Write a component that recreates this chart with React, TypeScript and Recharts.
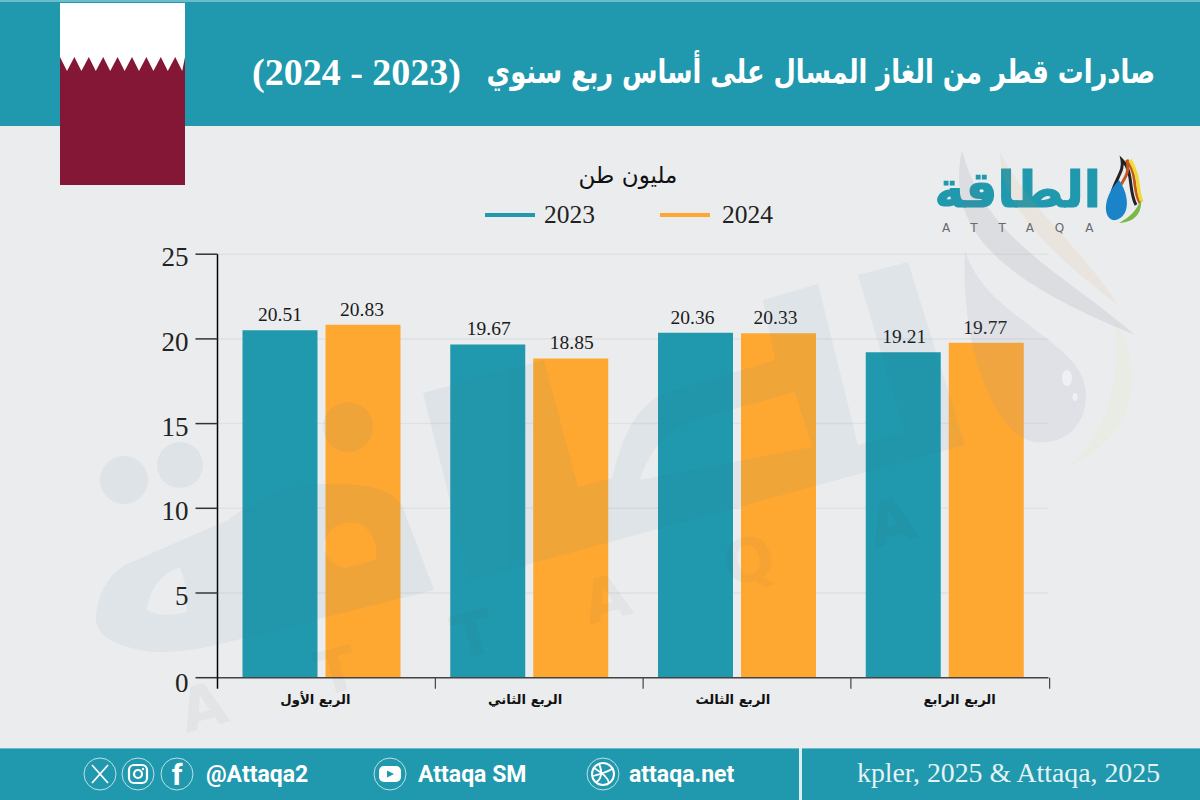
import { BarChart, Bar, XAxis, YAxis, CartesianGrid, Legend, LabelList } from 'recharts';

const quarters = ['الربع الأول', 'الربع الثاني', 'الربع الثالث', 'الربع الرابع'];
const exports2023 = [20.51, 19.67, 20.36, 19.21];
const exports2024 = [20.83, 18.85, 20.33, 19.77];
const yTicks = [0, 5, 10, 15, 20, 25];

const chartData = quarters.map((quarter, i) => ({
  quarter,
  y2023: exports2023[i],
  y2024: exports2024[i],
}));

const TEAL = '#2098AD';
const ORANGE = '#FEA832';
const PAGE = '#EBECEE';
const SERIF = '"Liberation Serif", serif';
const ARABIC = '"DejaVu Sans", sans-serif';
const LATIN = 'Roboto, sans-serif';

// the source draws its x ticks and quarter names off-centre from the bars
const tickShift = [114, 114, 114, 105];
const nameShift = [-6, -4, -4, 15];
const labelShift2023 = [0, 1, -3, 1];
const labelShift2024 = [-1, 1, -3, -1];

const YTick = ({ x, y, payload }: any) => (
  <text x={x} y={y + (payload.value === 0 ? 14 : 12)} textAnchor="end" fontFamily={SERIF} fontSize={27} fill="#222">
    {payload.value}
  </text>
);

const XTick = ({ x, y, index, payload }: any) => (
  <g>
    {index === 0 && <line x1={217.5} x2={217.5} y1={y} y2={y + 11} stroke="#000" strokeWidth={1.5} />}
    <line x1={x + tickShift[index]} x2={x + tickShift[index]} y1={y} y2={y + 11} stroke="#444" strokeWidth={1.2} />
    <text x={x + nameShift[index]} y={y + 26} textAnchor="middle" fontFamily={ARABIC} fontWeight="bold" fontSize={13.2} fill="#111">
      {payload.value}
    </text>
  </g>
);

const barLabel = (shift: number[]) => (p: any) => (
  <text x={p.x + p.width / 2 + shift[p.index]} y={p.y - 9} textAnchor="middle" fontFamily={SERIF} fontSize={19.5} fill="#1a1a1a">
    {p.value}
  </text>
);

const LegendRow = () => (
  <div style={{ position: 'relative', height: 0 }}>
    {[
      { name: '2023', color: TEAL, left: 485, textLeft: 544 },
      { name: '2024', color: ORANGE, left: 660, textLeft: 722 },
    ].map((s) => (
      <div key={s.name}>
        <div style={{ position: 'absolute', left: s.left, top: 18, width: 50, height: 4, background: s.color }} />
        <div style={{ position: 'absolute', left: s.textLeft, top: 6, fontFamily: SERIF, fontSize: 25.5, lineHeight: '28px', color: '#222' }}>
          {s.name}
        </div>
      </div>
    ))}
  </div>
);

const flagTeeth = () => {
  const pts: string[] = ['60,3', '185,3', '185,57'];
  for (let i = 8; i >= 0; i--) {
    pts.push(`${67 + i * 14.4},71`);
    pts.push(`${60 + i * 14.4},57`);
  }
  return pts.join(' ');
};

const Flag = () => (
  <svg width={1200} height={200} style={{ position: 'absolute', left: 0, top: 0 }}>
    <rect x={60} y={3} width={125} height={182} fill="#851736" />
    <polygon points={flagTeeth()} fill="#fff" />
  </svg>
);

// pale logo printed across the plot, it also tints the bars below it
const Watermark = () => (
  <svg width={1200} height={800} style={{ position: 'absolute', left: 0, top: 0, pointerEvents: 'none' }}>
    <g fill="#3f7f9a" opacity={0.07}>
      <path
        fillRule="evenodd"
        d="M96 618 C98 590 110 575 125 565 L228 520 C260 495 300 482 337 484 C370 484 392 490 402 505 L434 590 L228 642 C190 652 160 654 140 650 C112 644 96 635 96 618 Z
           M147 610 C148 590 165 570 180 568 C188 585 185 600 187 612 C172 616 158 616 147 610 Z
           M325 540 C330 525 345 520 360 524 C372 530 378 545 376 560 L345 568 C332 565 322 555 325 540 Z"
      />
      <path
        fillRule="evenodd"
        d="M423 393 L544 360 L578 487 L612 478 C622 440 632 412 660 395 L775 360 L763 300 L818 284 L858 445 L905 432 L858 275 L908 262 L965 445 L526 565 L470 580 Z
           M640 480 C650 448 670 428 695 420 L795 392 L812 447 Z"
      />
      <circle cx={124} cy={480} r={24} />
      <circle cx={180} cy={465} r={23} />
      <circle cx={348} cy={427} r={25} />
    </g>
    <text
      x={0}
      y={0}
      transform="translate(186 733) rotate(-15)"
      fontFamily={ARABIC}
      fontWeight="bold"
      fontSize={60}
      letterSpacing={99}
      fill="#555"
      fillOpacity={0.05}
    >
      ATTAQA
    </text>
    <path d="M962 150 C945 230 1000 280 1135 335 C1060 270 985 240 962 150 Z" fill="#7a7f8c" fillOpacity={0.13} />
    <path d="M1000 152 C1000 210 1060 260 1118 305 C1075 240 1030 210 1000 152 Z" fill="#e0a060" fillOpacity={0.1} />
    <path d="M965 250 C985 320 1086 340 1086 395 C1086 430 1060 445 1035 442 C1000 438 960 360 965 250 Z" fill="#8a90b0" fillOpacity={0.12} />
    <ellipse cx={1067} cy={378} rx={5} ry={8} fill="#fff" fillOpacity={0.5} />
    <ellipse cx={1075} cy={397} rx={2.5} ry={4} fill="#fff" fillOpacity={0.5} />
    <path d="M1115 320 C1150 380 1130 440 1070 465 C1110 430 1120 380 1115 320 Z" fill="#d8e0a0" fillOpacity={0.1} />
  </svg>
);

const Logo = () => (
  <svg width={1200} height={260} style={{ position: 'absolute', left: 0, top: 0 }}>
    <text x={1101} y={207} textAnchor="end" fontFamily={ARABIC} fontWeight="bold" fontSize={50} stroke="#2098AD" strokeWidth={1.2} fill="#2098AD">
      الطاقة
    </text>
    <text x={942} y={232} fontFamily={ARABIC} fontSize={12} letterSpacing={21} fill="#66696c">
      ATTAQA
    </text>
    <path d="M1112 192 C1118 175 1124 170 1122 160 C1134 172 1128 190 1136 205" stroke="#222" strokeWidth={3} fill="none" />
    <path d="M1118 190 C1124 178 1130 175 1127 160 C1138 175 1132 190 1140 203" stroke="#c4571d" strokeWidth={3} fill="none" />
    <path d="M1130 160 C1141 178 1136 190 1142 202" stroke="#f2d93a" strokeWidth={3.5} fill="none" />
    <path d="M1119 180 C1130 196 1130 216 1116 220 C1104 222 1100 200 1119 180 Z" fill="#1b84c8" />
    <path d="M1119 223 C1136 222 1142 212 1141 200 C1135 212 1131 216 1119 223 Z" fill="#7cb848" />
  </svg>
);

const Ring = ({ cx, children }: any) => (
  <g transform={`translate(${cx} 774)`}>
    <circle r={16} fill="none" stroke="#cfe8ec" strokeWidth={0.9} />
    {children}
  </g>
);

const Footer = () => (
  <svg width={1200} height={800} style={{ position: 'absolute', left: 0, top: 0 }}>
    <rect x={0} y={748} width={1200} height={52} fill={TEAL} />
    <rect x={0} y={748} width={1200} height={1} fill="#6dbccb" />
    <rect x={799} y={748} width={3} height={52} fill="#dceef1" />
    <Ring cx={100}>
      <path d="M-8 -9 L8 9 M8 -9 L-8 9" stroke="#fff" strokeWidth={1.8} />
    </Ring>
    <Ring cx={138}>
      <rect x={-9} y={-9} width={18} height={18} rx={5} fill="none" stroke="#fff" strokeWidth={2.2} />
      <circle r={4} fill="none" stroke="#fff" strokeWidth={2.2} />
      <circle cx={5} cy={-5} r={1.2} fill="#fff" />
    </Ring>
    <Ring cx={177}>
      <text x={0} y={11} textAnchor="middle" fontFamily={LATIN} fontWeight="bold" fontSize={30} fill="#fff">f</text>
    </Ring>
    <text x={206} y={782} fontFamily={LATIN} fontWeight="bold" fontSize={23} fill="#fff">@Attaqa2</text>
    <Ring cx={390}>
      <rect x={-11} y={-8} width={22} height={16} rx={5} fill="#fff" />
      <polygon points="-3,-3.5 4,0 -3,3.5" fill={TEAL} />
    </Ring>
    <text x={418} y={782} fontFamily={LATIN} fontWeight="bold" fontSize={23} fill="#fff">Attaqa SM</text>
    <Ring cx={603}>
      <circle r={11} fill="none" stroke="#fff" strokeWidth={2} />
      <path d="M-9 -6 C-2 -2 5 4 6 9 M-4 -10 C0 -2 -2 6 -7 8 M9 -5 C4 -2 -2 0 -10 2" fill="none" stroke="#fff" strokeWidth={1.8} />
    </Ring>
    <text x={629} y={782} fontFamily={LATIN} fontWeight="bold" fontSize={23} fill="#fff">attaqa.net</text>
    <text x={857} y={782} fontFamily={SERIF} fontSize={27.8} fill="#e6f3f5">kpler, 2025 &amp; Attaqa, 2025</text>
  </svg>
);

const App = () => {
  return (
    <div style={{ position: 'absolute', left: 0, top: 0, width: 1200, height: 800, background: PAGE, overflow: 'hidden' }}>
      <div style={{ position: 'absolute', left: 0, top: 0, width: 1200, height: 126, background: TEAL, borderTop: '2px solid #6dbccb', boxSizing: 'border-box' }} />
      <div
        dir="rtl"
        style={{ position: 'absolute', right: 45, top: 50, whiteSpace: 'nowrap', fontFamily: ARABIC, fontWeight: 'bold', fontSize: 33, lineHeight: '44px', color: '#fff', transform: 'scaleX(0.78)', transformOrigin: 'right center' }}
      >
        صادرات قطر من الغاز المسال على أساس ربع سنوي
      </div>
      <div
        dir="rtl"
        style={{ position: 'absolute', left: 252, top: 50, whiteSpace: 'nowrap', fontFamily: SERIF, fontWeight: 'bold', fontSize: 38, lineHeight: '44px', color: '#fff' }}
      >
        (2023 - 2024)
      </div>
      <Flag />
      <Logo />
      <div dir="rtl" style={{ position: 'absolute', left: 528, width: 200, top: 161, textAlign: 'center', fontFamily: ARABIC, fontSize: 23, lineHeight: '28px', color: '#111' }}>
        مليون طن
      </div>
      <div style={{ position: 'absolute', left: 0, top: 0 }}>
        <BarChart
          width={1200}
          height={800}
          data={chartData}
          margin={{ top: 254.2, right: 151.5, bottom: 92.3, left: 0 }}
          barSize={75}
          barGap={8}
        >
          <CartesianGrid vertical={false} stroke="#dfe1e3" strokeWidth={1.5} />
          <XAxis dataKey="quarter" height={30} tickLine={false} tickSize={0} tickMargin={0} axisLine={{ stroke: '#444', strokeWidth: 1.5 }} tick={<XTick />} interval={0} />
          <YAxis
            width={217.5}
            domain={[0, 25]}
            ticks={yTicks}
            tickSize={22}
            tickMargin={7}
            tickLine={{ stroke: '#333', strokeWidth: 1.5 }}
            axisLine={{ stroke: '#000', strokeWidth: 1.5 }}
            tick={<YTick />}
          />
          <Legend verticalAlign="top" content={<LegendRow />} wrapperStyle={{ top: 195, left: 0, width: 1200, height: 0 }} />
          <Bar dataKey="y2023" name="2023" fill={TEAL} isAnimationActive={false}>
            <LabelList dataKey="y2023" content={barLabel(labelShift2023)} />
          </Bar>
          <Bar dataKey="y2024" name="2024" fill={ORANGE} isAnimationActive={false}>
            <LabelList dataKey="y2024" content={barLabel(labelShift2024)} />
          </Bar>
        </BarChart>
      </div>
      <Watermark />
      <Footer />
    </div>
  );
};

export default App;
